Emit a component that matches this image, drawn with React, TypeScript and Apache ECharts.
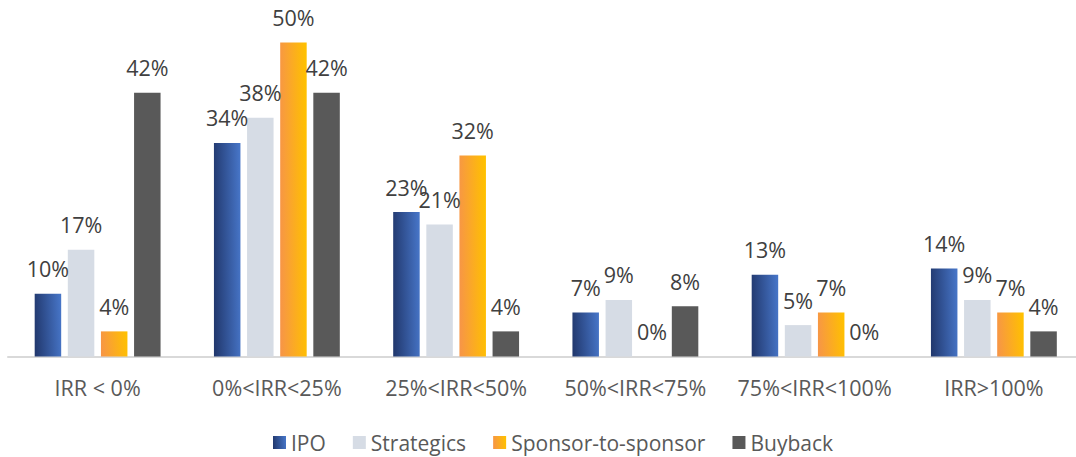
import React, { useEffect, useRef } from "react";
import * as echarts from "echarts";

const categories = ["IRR < 0%", "0%<IRR<25%", "25%<IRR<50%", "50%<IRR<75%", "75%<IRR<100%", "IRR>100%"];
const ipo = [10, 34, 23, 7, 13, 14];
const strategics = [17, 38, 21, 9, 5, 9];
const sponsor = [4, 50, 32, 0, 7, 7];
const buyback = [42, 42, 4, 8, 0, 4];

const FONT = "'Open Sans', 'Liberation Sans', sans-serif";

export default function App() {
  const ref = useRef<HTMLDivElement>(null);
  useEffect(() => {
    if (!ref.current) return;
    const chart = echarts.init(ref.current, undefined, { renderer: "svg" });
    const grad = (a: string, b: string) =>
      new echarts.graphic.LinearGradient(0, 0.55, 1, 0.45, [
        { offset: 0, color: a },
        { offset: 1, color: b },
      ]);
    const label = {
      show: true,
      position: "top" as const,
      distance: 14,
      formatter: "{c}%",
      color: "#404040",
      fontSize: 21.5,
      fontFamily: FONT,
    };
    const mk = (name: string, data: number[], color: any) => ({
      name,
      type: "bar" as const,
      data,
      barWidth: 26.5,
      barGap: "25%",
      itemStyle: { color },
      label,
    });
    chart.setOption({
      animation: false,
      grid: { left: 8, right: 8.5, top: 42.5, bottom: 100.5, containLabel: false },
      legend: {
        left: 268,
        top: 427,
        itemWidth: 13,
        itemHeight: 13,
        itemGap: 27,
        icon: "rect",
        textStyle: { color: "#595959", fontSize: 21, fontFamily: FONT },
        data: ["IPO", "Strategics", "Sponsor-to-sponsor", "Buyback"],
      },
      xAxis: {
        type: "category",
        data: categories,
        axisLine: { show: true, lineStyle: { color: "#D9D9D9", width: 2 } },
        axisTick: { show: false },
        axisLabel: { color: "#595959", fontSize: 21.5, fontFamily: FONT, margin: 20, interval: 0 },
      },
      yAxis: {
        type: "value",
        min: 0,
        max: 50,
        show: false,
        splitLine: { show: false },
      },
      series: [
        mk("IPO", ipo, grad("#22396F", "#4674C6")),
        mk("Strategics", strategics, "#D6DCE5"),
        mk("Sponsor-to-sponsor", sponsor, grad("#F79646", "#FFC000")),
        mk("Buyback", buyback, "#595959"),
      ],
    });
    return () => chart.dispose();
  }, []);
  return (
    <div
      style={{ position: "absolute", left: 0, top: 0, width: 1076, height: 457, overflow: "hidden", background: "#fff" }}
    >
      <div ref={ref} style={{ width: 1092, height: 457 }} />
    </div>
  );
}
